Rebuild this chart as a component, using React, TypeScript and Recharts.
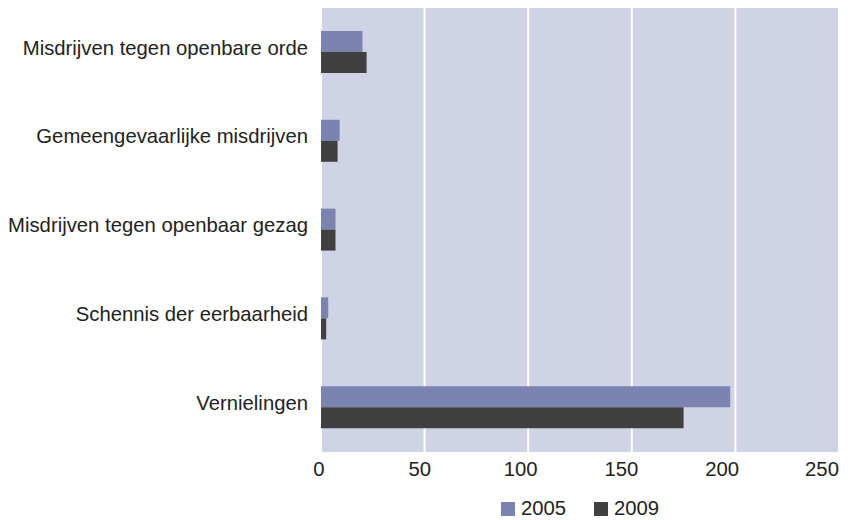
import React from "react";
import { BarChart, Bar, XAxis, YAxis, CartesianGrid, Legend } from "recharts";

const categories = [
    "Misdrijven tegen openbare orde",
    "Gemeengevaarlijke misdrijven",
    "Misdrijven tegen openbaar gezag",
    "Schennis der eerbaarheid",
    "Vernielingen",
];
const values2005 = [20, 9, 7, 3.5, 197.5];
const values2009 = [22, 8, 7, 2.5, 175];
const xTicks = [0, 50, 100, 150, 200, 250];

const data = categories.map((name, i) => ({ name, y2005: values2005[i], y2009: values2009[i] }));

const FONT = "'Liberation Sans', Arial, sans-serif";
const FS = 20.3;

const XTick = (props: any) => {
    const { x, y, payload } = props;
    // labels in the original sit slightly left of their grid lines
    const shift = -2 - payload.value * 0.056;
    return (
        <text x={x + shift} y={y} dy={14} textAnchor="middle" fontSize={FS} fill="#222" fontFamily={FONT}>
            {payload.value}
        </text>
    );
};

const LegendContent = (props: any) => {
    const items = props.payload || [];
    return (
        <div style={{ display: "flex", justifyContent: "center", fontFamily: FONT, fontSize: FS, color: "#222" }}>
            {items.map((it: any, i: number) => (
                <div key={i} style={{ display: "flex", alignItems: "center", marginRight: i === items.length - 1 ? 0 : 28 }}>
                    <span style={{ width: 14, height: 14, background: it.color, display: "inline-block", marginRight: 6 }} />
                    <span>{it.value}</span>
                </div>
            ))}
        </div>
    );
};

const App = () => {
    return (
        <div style={{ width: 850, height: 520, background: "#fff" }}>
            <style>{"body{margin:0}"}</style>
            <BarChart
                width={850}
                height={520}
                data={data}
                layout="vertical"
                margin={{ top: 8, right: 11, left: 21, bottom: 2 }}
                barSize={21}
                barGap={0}
            >
                <CartesianGrid horizontal={false} fill="#d0d3e5" stroke="#ffffff" strokeWidth={2} />
                <XAxis
                    type="number"
                    domain={[0, 250]}
                    ticks={xTicks}
                    axisLine={false}
                    tickLine={false}
                    height={30}
                    tickMargin={4}
                    tick={<XTick />}
                />
                <YAxis
                    type="category"
                    dataKey="name"
                    width={300}
                    axisLine={false}
                    tickLine={false}
                    tickMargin={7}
                    tick={{ fontSize: FS, fill: "#222", fontFamily: FONT, dy: -5 }}
                />
                <Legend
                    verticalAlign="bottom"
                    height={36}
                    content={LegendContent}
                    wrapperStyle={{ left: 495, width: 170, top: 497 }}
                />
                <Bar dataKey="y2005" name="2005" fill="#7b84b0" isAnimationActive={false} />
                <Bar dataKey="y2009" name="2009" fill="#404040" isAnimationActive={false} />
            </BarChart>
        </div>
    );
};

export default App;
